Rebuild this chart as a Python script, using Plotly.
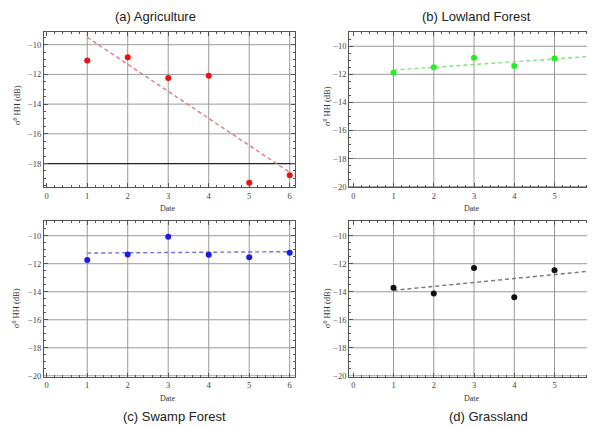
import plotly.graph_objects as go

W, H = 595, 427
OFF = 8  # page body margin compensation (px)

dates = [1, 2, 3, 4, 5, 6]
agriculture = [-11.07, -10.84, -12.24, -12.09, -19.29, -18.78]
lowland_forest = [-11.88, -11.50, -10.82, -11.41, -10.87, -10.75]
swamp_forest = [-11.74, -11.34, -10.07, -11.36, -11.53, -11.22]
grassland = [-13.72, -14.12, -12.31, -14.40, -12.47, -12.26]

trend_x = [1, 6]
trend_agriculture = [-9.50, -18.60]
trend_lowland = [-11.70, -10.71]
trend_swamp = [-11.24, -11.14]
trend_grassland = [-13.90, -12.49]

x_ticks = [0, 1, 2, 3, 4, 5, 6]
y_ticks_a = [-18, -16, -14, -12, -10]
y_ticks = [-20, -18, -16, -14, -12, -10]
grid_x = [1, 2, 3, 4, 5, 6]

titles = ["(a) Agriculture", "(b) Lowland Forest", "(c) Swamp Forest", "(d) Grassland"]

def px_x(p):
    return (p - OFF) / W

def px_y(p):
    return 1 - (p - OFF) / H

panels = [
    dict(name="a", y=agriculture, trend=trend_agriculture, mc="#ee1111", lc="#e07b7b",
         dom_x=[44, 295], dom_y=[32, 189], xr=[-0.067, 6.13], yr=[-19.6, -9.13], yt=y_ticks_a,
         title_xy=(155, 17), date_xy=(168, 210), ylab_xy=(17, 106)),
    dict(name="b", y=lowland_forest, trend=trend_lowland, mc="#22ee22", lc="#7fe27f",
         dom_x=[349.3, 602], dom_y=[32, 189], xr=[-0.099, 6.18], yr=[-20.05, -8.97], yt=y_ticks,
         title_xy=(476.5, 17), date_xy=(471.7, 210), ylab_xy=(327, 107)),
    dict(name="c", y=swamp_forest, trend=trend_swamp, mc="#1a1ae8", lc="#6f6fe6",
         dom_x=[44, 295], dom_y=[223.3, 380], xr=[-0.067, 6.13], yr=[-20.05, -8.97], yt=y_ticks,
         title_xy=(174.7, 420), date_xy=(168, 401.7), ylab_xy=(16, 311)),
    dict(name="d", y=grassland, trend=trend_grassland, mc="#111111", lc="#777777",
         dom_x=[349.3, 602], dom_y=[223.3, 380], xr=[-0.099, 6.18], yr=[-20.05, -8.97], yt=y_ticks,
         title_xy=(488, 420), date_xy=(471.7, 401.7), ylab_xy=(327, 311)),
]

fig = go.Figure()
shapes = []
annotations = []
tick_font = dict(family="Liberation Serif", size=8.5, color="#444")

for i, p in enumerate(panels):
    suf = "" if i == 0 else str(i + 1)
    xa, ya = "x" + suf, "y" + suf
    fig.add_trace(go.Scatter(x=trend_x, y=p["trend"], mode="lines", xaxis=xa, yaxis=ya,
                             line=dict(color=p["lc"], width=1.4, dash="4px,3px"),
                             showlegend=False, hoverinfo="skip"))
    fig.add_trace(go.Scatter(x=dates, y=p["y"], mode="markers", xaxis=xa, yaxis=ya,
                             marker=dict(color=p["mc"], size=6), cliponaxis=False,
                             showlegend=False))
    axis_common = dict(showgrid=False, zeroline=False, showline=True, linecolor="#555",
                       linewidth=1, ticks="inside", ticklen=4, tickcolor="#555",
                       tickfont=tick_font, mirror="ticks")
    fig.update_layout(**{
        "xaxis" + suf: dict(domain=[px_x(p["dom_x"][0]), px_x(p["dom_x"][1])],
                            range=p["xr"], tickvals=x_ticks, anchor=ya,
                            minor=dict(ticks="inside", ticklen=2, dtick=0.2, tick0=0,
                                       tickcolor="#555"),
                            **axis_common),
        "yaxis" + suf: dict(domain=[px_y(p["dom_y"][1]), px_y(p["dom_y"][0])],
                            range=p["yr"], tickvals=p["yt"], anchor=xa,
                            minor=dict(ticks="inside", ticklen=2, dtick=0.5, tick0=0,
                                       tickcolor="#555"),
                            **axis_common),
    })
    for gx in grid_x:
        shapes.append(dict(type="line", xref=xa, yref=ya + " domain", x0=gx, x1=gx, y0=0, y1=1,
                           line=dict(color="#9a9a9a", width=1), layer="below"))
    for gy in p["yt"]:
        if p["yr"][0] < gy < p["yr"][1]:
            shapes.append(dict(type="line", xref=xa + " domain", yref=ya, x0=0, x1=1, y0=gy, y1=gy,
                               line=dict(color="#9a9a9a", width=1), layer="below"))
    if p["name"] == "a":
        shapes.append(dict(type="line", xref=xa + " domain", yref=ya, x0=0, x1=1, y0=-18, y1=-18,
                           line=dict(color="#222", width=1.2), layer="below"))
    annotations.append(dict(text=titles[i], x=px_x(p["title_xy"][0]), y=px_y(p["title_xy"][1]),
                            xref="paper", yref="paper", showarrow=False, xanchor="center",
                            yanchor="middle", font=dict(family="Liberation Sans", size=13, color="#222")))
    annotations.append(dict(text="Date", x=px_x(p["date_xy"][0]), y=px_y(p["date_xy"][1]),
                            xref="paper", yref="paper", showarrow=False, xanchor="center",
                            yanchor="middle", font=dict(family="Liberation Serif", size=8, color="#333")))
    annotations.append(dict(text="σ<sup>0</sup> HH (dB)", x=px_x(p["ylab_xy"][0]), y=px_y(p["ylab_xy"][1]),
                            xref="paper", yref="paper", showarrow=False, xanchor="center",
                            yanchor="middle", textangle=-90,
                            font=dict(family="Liberation Serif", size=8.5, color="#333")))

fig.update_layout(width=W, height=H, margin=dict(l=0, r=0, t=0, b=0),
                  paper_bgcolor="white", plot_bgcolor="white",
                  shapes=shapes, annotations=annotations, showlegend=False)

fig.write_html("out.html")
